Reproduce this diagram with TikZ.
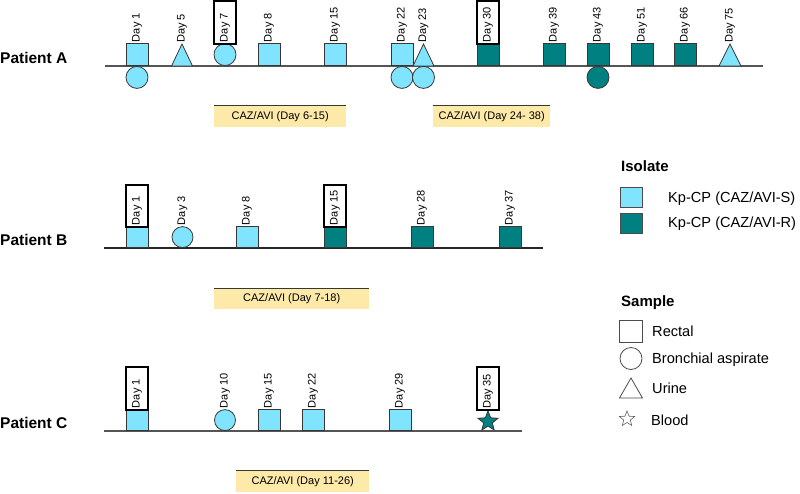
\documentclass[tikz,border=0pt]{standalone}
\usepackage{fontspec}
\setmainfont{Liberation Sans}
\usetikzlibrary{shapes.geometric}
\definecolor{lblue}{RGB}{128,228,255}
\definecolor{dteal}{RGB}{0,128,128}
\definecolor{cazy}{RGB}{253,233,168}
\definecolor{edgec}{RGB}{55,55,55}
\definecolor{linec}{RGB}{85,85,85}
\tikzset{
  shp/.style={draw=edgec, line width=0.8pt, inner sep=0pt},
  sqS/.style={shp, rectangle, fill=lblue, minimum width=22pt, minimum height=22pt, anchor=south},
  sqR/.style={shp, rectangle, fill=dteal, minimum width=22pt, minimum height=22pt, anchor=south},
  sqSb/.style={sqS, minimum height=21pt},
  sqRb/.style={sqR, minimum height=21pt},
  ciS/.style={shp, circle, fill=lblue, minimum size=22pt},
  ciR/.style={shp, circle, fill=dteal, minimum size=22pt},
  trS/.style={draw=edgec, line width=0.8pt, fill=lblue},
  daylab/.style={rotate=90, anchor=west, inner sep=1pt, font=\fontsize{11}{12}\selectfont},
  daybox/.style={draw=black, line width=1.8pt, rectangle, inner sep=0pt, minimum width=22pt},
  tline/.style={draw=linec, line width=1.3pt},
  caz/.style={fill=cazy, rectangle, inner sep=0pt, minimum height=22pt, anchor=north west, font=\fontsize{11}{12}\selectfont},
  caztop/.style={draw=edgec, line width=1pt},
  pat/.style={anchor=west, inner sep=0pt, font=\fontsize{15.5}{17}\selectfont\bfseries},
  leghead/.style={anchor=west, inner sep=0pt, font=\fontsize{15}{17}\selectfont\bfseries},
  legtxt/.style={anchor=west, inner sep=0pt, font=\fontsize{14.6}{17}\selectfont},
  legshp/.style={draw=edgec!90, line width=0.8pt, inner sep=0pt}
}
\begin{document}
\begin{tikzpicture}[x=1pt, y=-1pt]
\useasboundingbox (0,0) rectangle (800,493);

% ---------------- Patient A ----------------
\node[pat] (pA) at (0,58) {Patient A};
\coordinate (lAs) at (105,66);
\coordinate (lAe) at (763,66);
\draw[tline] (lAs) -- (lAe);

\node[sqS] (a1) at (137,66) {};
\node[ciS, anchor=north] (a1c) at (137,66) {};
\node[daylab] (a1l) at (a1.north) {Day 1};

\draw[trS] (171.5,66) -- (182,44) -- (192.5,66) -- cycle;
\coordinate (a5) at (182,44);
\node[daylab] (a5l) at (a5) {Day 5};

\node[ciS, anchor=south] (a7) at (225,66) {};
\node[daybox, minimum height=43pt, anchor=south] (a7b) at (225,44.5) {};
\node[daylab] (a7l) at (a7.north) {Day 7};

\node[sqS] (a8) at (269,66) {};
\node[daylab] (a8l) at (a8.north) {Day 8};

\node[sqS] (a15) at (335,66) {};
\node[daylab] (a15l) at (a15.north) {Day 15};

\node[sqS] (a22) at (402,66) {};
\node[ciS, anchor=north] (a22c) at (402,66) {};
\node[daylab] (a22l) at (a22.north) {Day 22};

\draw[trS] (413,66) -- (423.5,44) -- (434,66) -- cycle;
\node[ciS, anchor=north] (a23c) at (423.5,66) {};
\coordinate (a23) at (423.5,44);
\node[daylab] (a23l) at (a23) {Day 23};

\node[sqR] (a30) at (488,66) {};
\node[daybox, minimum height=43pt, anchor=south] (a30b) at (488,44.5) {};
\node[daylab] (a30l) at (a30.north) {Day 30};

\node[sqR] (a39) at (554,66) {};
\node[daylab] (a39l) at (a39.north) {Day 39};

\node[sqR] (a43) at (598,66) {};
\node[ciR, anchor=north] (a43c) at (598,66) {};
\node[daylab] (a43l) at (a43.north) {Day 43};

\node[sqR] (a51) at (642,66) {};
\node[daylab] (a51l) at (a51.north) {Day 51};

\node[sqR] (a66) at (685,66) {};
\node[daylab] (a66l) at (a66.north) {Day 66};

\draw[trS] (719,66) -- (730,44) -- (741,66) -- cycle;
\coordinate (a75) at (730,44);
\node[daylab] (a75l) at (a75) {Day 75};

\node[caz, minimum width=132pt] (cazA1) at (214,105) {CAZ/AVI (Day 6-15)};
\draw[caztop] (cazA1.north west) -- (cazA1.north east);
\node[caz, minimum width=117pt] (cazA2) at (433,105) {CAZ/AVI (Day 24- 38)};
\draw[caztop] (cazA2.north west) -- (cazA2.north east);

% ---------------- Patient B ----------------
\node[pat] (pB) at (0,240) {Patient B};
\coordinate (lBs) at (104,248);
\coordinate (lBe) at (543,248);
\draw[tline, draw=black!85] (lBs) -- (lBe);

\node[sqSb] (b1) at (137,248) {};
\node[daybox, minimum height=42pt, anchor=south] (b1b) at (137,227.5) {};
\node[daylab] (b1l) at (b1.north) {Day 1};

\node[ciS, minimum size=21pt, anchor=south] (b3) at (182.5,248) {};
\node[daylab] (b3l) at (b3.north) {Day 3};

\node[sqSb] (b8) at (247,248) {};
\node[daylab] (b8l) at (b8.north) {Day 8};

\node[sqRb] (b15) at (335,248) {};
\node[daybox, minimum height=42pt, anchor=south] (b15b) at (335,227.5) {};
\node[daylab] (b15l) at (b15.north) {Day 15};

\node[sqRb] (b28) at (422,248) {};
\node[daylab] (b28l) at (b28.north) {Day 28};

\node[sqRb] (b37) at (510,248) {};
\node[daylab] (b37l) at (b37.north) {Day 37};

\node[caz, minimum width=155pt, minimum height=21pt] (cazB) at (214,288) {CAZ/AVI (Day 7-18)};
\draw[caztop] (cazB.north west) -- (cazB.north east);

% ---------------- Patient C ----------------
\node[pat] (pC) at (0,423) {Patient C};
\coordinate (lCs) at (104,431);
\coordinate (lCe) at (522,431);
\draw[tline] (lCs) -- (lCe);

\node[sqSb] (c1) at (137,431) {};
\node[daybox, minimum height=43pt, anchor=south] (c1b) at (137,410.5) {};
\node[daylab] (c1l) at (c1.north) {Day 1};

\node[ciS, minimum size=21pt, anchor=south] (c10) at (225,431) {};
\node[daylab] (c10l) at (c10.north) {Day 10};

\node[sqSb] (c15) at (269,431) {};
\node[daylab] (c15l) at (c15.north) {Day 15};

\node[sqSb] (c22) at (313,431) {};
\node[daylab] (c22l) at (c22.north) {Day 22};

\node[sqSb] (c29) at (400,431) {};
\node[daylab] (c29l) at (c29.north) {Day 29};

\node[shp, star, star points=5, star point ratio=2.3, fill=dteal, minimum size=21pt] (c35) at (488,421.5) {};
\node[daybox, minimum height=43pt, anchor=south] (c35b) at (488,410.5) {};
\node[daylab] (c35l) at (488,410) {Day 35};

\node[caz, minimum width=133pt] (cazC) at (236,470) {CAZ/AVI (Day 11-26)};
\draw[caztop] (cazC.north west) -- (cazC.north east);

% ---------------- Legend ----------------
\node[leghead] (isoh) at (621,166) {Isolate};
\node[legshp, rectangle, fill=lblue, minimum width=22pt, minimum height=20pt] (isoS) at (631,197) {};
\node[legtxt] (isoSt) at (668,199) {Kp-CP (CAZ/AVI-S)};
\node[legshp, rectangle, fill=dteal, minimum width=22pt, minimum height=20pt] (isoR) at (631,223) {};
\node[legtxt] (isoRt) at (668,224) {Kp-CP (CAZ/AVI-R)};

\node[leghead] (samh) at (621,303) {Sample};
\node[legshp, rectangle, minimum width=23pt, minimum height=22pt] (samR) at (630.5,331) {};
\node[legtxt] (samRt) at (652,331) {Rectal};
\node[legshp, circle, minimum size=22pt] (samB) at (631,358.5) {};
\node[legtxt] (samBt) at (652,360) {Bronchial aspirate};
\draw[legshp] (619.5,398) -- (631,378) -- (642.5,398) -- cycle;
\coordinate (samU) at (631,388);
\node[legtxt] (samUt) at (652,388) {Urine};
\node[legshp, draw=edgec!80, line width=0.6pt, star, star points=5, star point ratio=2.3, minimum size=16pt] (samBl) at (627,419) {};
\node[legtxt] (samBlt) at (651,420) {Blood};
\end{tikzpicture}
\end{document}
